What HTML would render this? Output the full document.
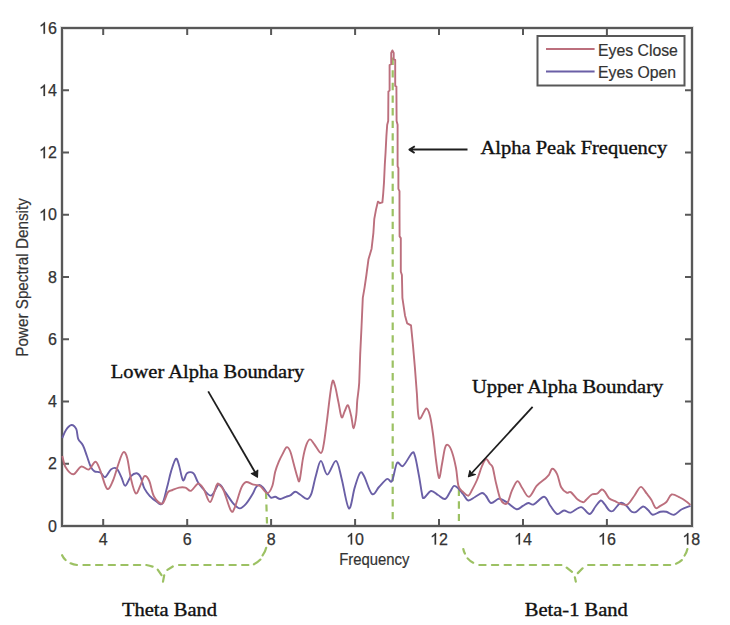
<!DOCTYPE html>
<html><head><meta charset="utf-8"><style>
html,body{margin:0;padding:0;background:#fff;}
svg{display:block;}
</style></head><body>
<svg width="730" height="625" viewBox="0 0 730 625">
<rect width="730" height="625" fill="#fff"/>
<rect x="62" y="28" width="630" height="498" fill="none" stroke="#585858" stroke-width="4.0" stroke-opacity="0.18"/>
<rect x="62" y="28" width="630" height="498" fill="none" stroke="#585858" stroke-width="2.0"/>
<path d="M103.2,526 V519 M103.2,28 V35 M187.2,526 V519 M187.2,28 V35 M271.1,526 V519 M271.1,28 V35 M355.1,526 V519 M355.1,28 V35 M439.0,526 V519 M439.0,28 V35 M523.0,526 V519 M523.0,28 V35 M606.9,526 V519 M606.9,28 V35 M62,463.8 H69 M692,463.8 H685 M62,401.5 H69 M692,401.5 H685 M62,339.3 H69 M692,339.3 H685 M62,277.0 H69 M692,277.0 H685 M62,214.8 H69 M692,214.8 H685 M62,152.6 H69 M692,152.6 H685 M62,90.3 H69 M692,90.3 H685" stroke="#585858" stroke-width="2.0" fill="none"/>
<g font-family="Liberation Sans" font-size="16.0" fill="#333" stroke="#333" stroke-width="0.25"><text x="98.75" y="544.50">4</text><text x="182.70" y="544.50">6</text><text x="266.65" y="544.50">8</text><path transform="translate(346.15,544.50) scale(0.00781,-0.00781)" d="M763 0H583V1147Q518 1085 412.5 1023Q307 961 223 930V1104Q374 1175 487 1276Q600 1377 647 1472H763Z" stroke-width="32.0"/><text x="355.05" y="544.50">0</text><path transform="translate(430.10,544.50) scale(0.00781,-0.00781)" d="M763 0H583V1147Q518 1085 412.5 1023Q307 961 223 930V1104Q374 1175 487 1276Q600 1377 647 1472H763Z" stroke-width="32.0"/><text x="439.00" y="544.50">2</text><path transform="translate(514.05,544.50) scale(0.00781,-0.00781)" d="M763 0H583V1147Q518 1085 412.5 1023Q307 961 223 930V1104Q374 1175 487 1276Q600 1377 647 1472H763Z" stroke-width="32.0"/><text x="522.95" y="544.50">4</text><path transform="translate(598.00,544.50) scale(0.00781,-0.00781)" d="M763 0H583V1147Q518 1085 412.5 1023Q307 961 223 930V1104Q374 1175 487 1276Q600 1377 647 1472H763Z" stroke-width="32.0"/><text x="606.90" y="544.50">6</text><path transform="translate(682.40,544.50) scale(0.00781,-0.00781)" d="M763 0H583V1147Q518 1085 412.5 1023Q307 961 223 930V1104Q374 1175 487 1276Q600 1377 647 1472H763Z" stroke-width="32.0"/><text x="691.30" y="544.50">8</text><text x="47.90" y="531.60">0</text><text x="47.90" y="469.36">2</text><text x="47.90" y="407.12">4</text><text x="47.90" y="344.88">6</text><text x="47.90" y="282.64">8</text><path transform="translate(39.00,220.40) scale(0.00781,-0.00781)" d="M763 0H583V1147Q518 1085 412.5 1023Q307 961 223 930V1104Q374 1175 487 1276Q600 1377 647 1472H763Z" stroke-width="32.0"/><text x="47.90" y="220.40">0</text><path transform="translate(39.00,158.16) scale(0.00781,-0.00781)" d="M763 0H583V1147Q518 1085 412.5 1023Q307 961 223 930V1104Q374 1175 487 1276Q600 1377 647 1472H763Z" stroke-width="32.0"/><text x="47.90" y="158.16">2</text><path transform="translate(39.00,95.92) scale(0.00781,-0.00781)" d="M763 0H583V1147Q518 1085 412.5 1023Q307 961 223 930V1104Q374 1175 487 1276Q600 1377 647 1472H763Z" stroke-width="32.0"/><text x="47.90" y="95.92">4</text><path transform="translate(39.00,33.68) scale(0.00781,-0.00781)" d="M763 0H583V1147Q518 1085 412.5 1023Q307 961 223 930V1104Q374 1175 487 1276Q600 1377 647 1472H763Z" stroke-width="32.0"/><text x="47.90" y="33.68">6</text></g>
<text transform="translate(339.2,565) scale(0.93,1)" x="0" y="0" font-family="Liberation Sans" font-size="16" fill="#333" stroke="#333" stroke-width="0.2">Frequency</text>
<text transform="translate(28.4,356.8) rotate(-90) scale(0.955,1)" x="0" y="0" font-family="Liberation Sans" font-size="16" fill="#333" stroke="#333" stroke-width="0.2">Power Spectral Density</text>
<path d="M392.7,57.6 V520" stroke="#9cc163" stroke-width="2.2" stroke-dasharray="7.3 5.32" fill="none"/>
<path d="M266,492 L267,523.5" stroke="#9cc163" stroke-width="2.2" stroke-dasharray="7 5.5" fill="none"/>
<path d="M458.9,488.5 V521" stroke="#9cc163" stroke-width="2.2" stroke-dasharray="7.5 5.2" fill="none"/>
<path d="M62.3,438.0 C62.9,436.7 64.5,432.2 66.0,430.0 C67.5,427.8 69.8,425.1 71.5,425.0 C73.2,424.9 75.2,426.9 76.3,429.2 C77.4,431.5 77.1,436.1 78.2,438.8 C79.3,441.5 81.5,442.6 83.0,445.5 C84.5,448.4 85.6,452.5 86.9,456.0 C88.2,459.5 89.4,464.0 90.7,466.6 C92.0,469.2 92.9,470.4 94.5,471.4 C96.1,472.4 98.5,471.4 100.3,472.4 C102.1,473.4 103.3,477.7 105.1,477.2 C106.9,476.7 109.0,470.9 110.9,469.5 C112.8,468.1 114.8,467.2 116.6,468.5 C118.3,469.8 120.0,474.3 121.4,477.2 C122.9,480.1 123.7,486.0 125.3,485.8 C126.9,485.6 129.1,478.3 131.0,476.2 C132.9,474.1 135.2,473.1 136.8,473.3 C138.4,473.5 139.3,474.6 140.6,477.2 C141.9,479.8 142.9,485.5 144.5,488.7 C146.1,491.9 148.3,494.3 150.2,496.4 C152.1,498.5 154.0,500.0 156.0,501.2 C158.0,502.4 160.4,505.9 162.2,503.6 C164.0,501.3 165.5,492.9 167.0,487.6 C168.5,482.3 169.5,476.4 171.0,471.6 C172.5,466.8 174.5,459.9 175.8,458.8 C177.1,457.7 177.8,461.6 179.0,465.2 C180.2,468.8 181.7,479.1 183.0,480.4 C184.3,481.7 185.3,474.4 187.0,473.2 C188.7,472.0 191.7,471.9 193.4,473.2 C195.1,474.5 196.1,478.9 197.4,481.2 C198.7,483.5 199.1,484.4 201.4,486.8 C203.7,489.2 208.1,496.0 211.0,495.6 C213.9,495.2 216.6,484.9 219.0,484.4 C221.4,483.9 223.0,489.2 225.4,492.4 C227.8,495.6 231.0,500.9 233.4,503.6 C235.8,506.3 237.7,508.4 239.8,508.4 C241.9,508.4 244.1,506.0 246.2,503.6 C248.3,501.2 251.0,496.7 252.6,494.0 C254.2,491.3 254.7,489.0 255.8,487.5 C256.9,486.0 258.2,484.9 259.4,484.9 C260.6,484.9 261.7,486.1 263.0,487.5 C264.3,488.9 266.0,491.5 267.3,493.2 C268.6,494.9 269.6,497.0 270.9,497.6 C272.2,498.2 273.6,496.6 275.2,496.8 C276.8,497.0 278.4,499.0 280.2,499.0 C282.0,499.0 284.3,497.4 286.0,496.8 C287.7,496.2 288.8,496.2 290.3,495.4 C291.9,494.6 293.6,491.9 295.3,491.8 C297.0,491.7 298.4,493.5 300.4,494.7 C302.4,495.9 305.3,499.2 307.2,499.0 C309.1,498.8 310.1,497.1 311.5,493.3 C312.9,489.5 314.2,481.4 315.8,476.0 C317.4,470.6 319.0,461.1 320.9,460.9 C322.8,460.7 324.8,474.6 327.3,474.6 C329.8,474.6 333.6,460.2 336.0,460.9 C338.4,461.6 339.6,471.0 341.7,478.9 C343.8,486.8 346.7,506.9 348.9,508.4 C351.1,509.8 352.8,493.5 354.7,487.6 C356.6,481.7 358.4,474.9 360.0,473.0 C361.6,471.1 362.0,472.5 364.0,476.0 C366.0,479.5 369.5,492.2 372.0,494.0 C374.5,495.8 376.5,489.5 379.0,487.0 C381.5,484.5 384.8,480.0 387.0,479.0 C389.2,478.0 390.3,483.7 392.0,481.0 C393.7,478.3 395.2,465.5 397.0,463.0 C398.8,460.5 400.5,467.7 403.0,466.0 C405.5,464.3 410.0,454.7 412.0,453.0 C414.0,451.3 413.8,452.2 415.0,456.0 C416.2,459.8 417.8,469.7 419.0,476.0 C420.2,482.3 421.2,490.3 422.0,494.0 C422.8,497.7 422.5,498.5 424.0,498.0 C425.5,497.5 428.7,491.5 431.0,491.0 C433.3,490.5 435.7,493.7 438.0,495.0 C440.3,496.3 443.0,499.5 445.0,499.0 C447.0,498.5 448.5,494.2 450.0,492.0 C451.5,489.8 452.5,486.7 453.8,486.0 C455.1,485.3 456.5,486.7 458.0,488.0 C459.5,489.3 461.3,491.9 463.0,494.0 C464.7,496.1 466.3,500.0 468.3,500.5 C470.3,501.0 472.7,498.2 475.0,497.0 C477.3,495.8 480.2,493.2 482.0,493.0 C483.8,492.8 484.5,494.3 486.0,496.0 C487.5,497.7 489.0,502.5 491.0,503.0 C493.0,503.5 496.3,499.5 498.2,498.9 C500.1,498.3 500.7,498.9 502.3,499.6 C503.9,500.3 505.4,501.4 507.8,503.0 C510.2,504.6 514.2,508.7 516.7,509.2 C519.2,509.7 521.0,506.8 522.9,505.8 C524.8,504.8 526.6,503.2 528.4,503.0 C530.2,502.8 531.2,505.4 533.8,504.4 C536.4,503.4 541.4,496.6 544.1,496.8 C546.9,497.0 548.1,502.9 550.3,505.8 C552.5,508.7 554.8,513.2 557.1,514.0 C559.4,514.8 561.7,510.7 564.0,510.5 C566.3,510.3 567.9,513.2 570.8,512.6 C573.6,512.0 578.0,506.9 581.1,507.1 C584.2,507.3 587.1,514.1 589.5,514.0 C591.9,513.9 593.6,508.8 595.5,506.5 C597.4,504.2 599.3,500.9 600.8,500.5 C602.3,500.1 603.2,502.6 604.6,504.2 C606.0,505.8 607.7,509.2 609.1,510.3 C610.5,511.4 611.5,511.8 612.9,511.0 C614.3,510.2 616.0,507.2 617.4,505.8 C618.8,504.4 619.7,502.7 621.2,502.7 C622.7,502.7 624.6,504.3 626.4,505.8 C628.1,507.3 630.1,510.8 631.7,511.8 C633.3,512.8 634.3,512.7 636.2,511.8 C638.1,510.9 641.0,506.8 643.0,506.5 C645.0,506.2 646.7,508.9 648.3,510.3 C649.9,511.7 650.8,514.5 652.8,514.8 C654.8,515.0 658.0,512.3 660.3,511.8 C662.6,511.3 664.1,511.3 666.4,511.8 C668.7,512.3 671.4,515.2 673.9,514.8 C676.4,514.4 678.6,511.0 681.4,509.5 C684.2,508.0 689.0,506.4 690.5,505.8" stroke="#6a5fa6" stroke-width="1.9" fill="none" stroke-linejoin="round"/>
<path d="M62.3,456.0 C62.9,457.9 63.9,464.6 65.8,467.6 C67.7,470.7 70.9,474.5 73.4,474.3 C76.0,474.1 78.5,467.4 81.1,466.6 C83.7,465.8 86.4,470.3 88.8,469.5 C91.2,468.7 93.6,461.6 95.5,461.8 C97.4,462.0 98.4,466.0 100.3,470.5 C102.2,475.0 104.9,486.9 107.0,488.7 C109.1,490.4 110.9,485.2 112.8,481.0 C114.7,476.8 116.8,468.5 118.5,463.7 C120.2,458.9 121.8,453.1 123.3,452.2 C124.8,451.2 125.9,453.5 127.2,458.0 C128.5,462.5 129.6,473.1 131.0,479.0 C132.4,484.9 134.2,492.5 135.8,493.5 C137.4,494.5 139.2,487.8 140.6,484.9 C142.0,482.0 143.1,476.8 144.5,476.2 C145.9,475.6 147.7,477.6 149.3,481.0 C150.9,484.4 151.8,492.6 154.0,496.4 C156.2,500.2 159.9,504.3 162.2,503.6 C164.5,502.9 166.1,494.7 167.8,492.4 C169.5,490.1 170.7,490.8 172.6,490.0 C174.5,489.2 176.9,488.0 179.0,487.6 C181.1,487.2 183.4,487.1 185.4,487.6 C187.4,488.1 188.9,491.5 191.0,490.8 C193.1,490.1 196.1,483.9 198.2,483.6 C200.3,483.3 201.8,486.1 203.8,489.2 C205.8,492.3 208.1,502.7 210.2,502.0 C212.3,501.3 215.1,488.1 216.6,485.2 C218.1,482.3 217.8,483.5 219.0,484.4 C220.2,485.3 221.8,486.4 223.8,490.8 C225.8,495.2 229.1,508.1 231.0,510.8 C232.9,513.5 233.3,510.7 235.0,506.8 C236.7,502.9 239.5,491.7 241.4,487.6 C243.3,483.5 244.3,482.5 246.2,482.0 C248.1,481.5 250.3,483.7 252.6,484.4 C254.9,485.1 257.6,484.5 260.0,486.0 C262.4,487.5 265.2,493.2 267.3,493.2 C269.4,493.2 271.0,489.6 272.3,486.0 C273.6,482.4 274.1,475.8 275.2,471.7 C276.3,467.6 277.5,464.7 278.8,461.6 C280.1,458.5 281.8,455.4 283.1,453.0 C284.4,450.6 285.5,447.4 286.7,447.2 C287.9,446.9 289.1,448.6 290.3,451.5 C291.5,454.4 292.7,460.2 293.9,464.5 C295.1,468.8 296.6,474.8 297.5,477.4 C298.4,480.0 298.7,483.4 299.6,480.3 C300.5,477.2 301.8,464.8 302.9,458.8 C304.0,452.8 305.3,447.6 306.5,444.4 C307.7,441.2 308.8,439.4 310.1,439.4 C311.4,439.4 312.6,442.1 314.4,444.4 C316.2,446.7 319.3,453.0 320.9,453.0 C322.4,453.0 322.7,449.7 323.7,444.4 C324.7,439.1 325.8,429.3 326.9,421.2 C327.9,413.1 329.1,402.3 330.0,395.6 C330.9,388.9 331.7,382.4 332.6,380.9 C333.5,379.4 334.2,383.1 335.2,386.6 C336.2,390.1 337.3,396.9 338.4,402.0 C339.5,407.1 340.5,415.8 341.6,417.3 C342.7,418.8 343.7,413.0 344.8,411.0 C345.9,409.0 346.9,404.4 348.0,405.2 C349.1,406.0 350.2,412.2 351.2,416.0 C352.1,419.8 352.8,428.4 353.7,428.2 C354.6,428.0 355.7,419.5 356.3,414.8 C356.9,410.1 356.8,405.5 357.3,400.2 C357.8,394.9 358.7,390.6 359.2,382.9 L360.2,354.1 L361.5,327.3 L362.8,297.9 L364.6,287.3 L366.4,275.0 L368.5,259.2 L371.6,248.7 L373.4,232.8 L374.3,218.8 L376.0,209.6 L377.9,201.6 L380.0,203.2 L382.4,202.4 L383.2,193.6 L384.0,182.4 L384.8,164.8 L385.6,152.0 L386.4,136.0 L387.2,124.8 L388.2,121.0 L388.4,91.5 L389.6,90.6 L389.6,65.0 L391.2,64.2 L391.2,53.0 L392.4,50.4 L393.7,53.0 L393.7,59.4 L395.2,60.0 L395.2,86.0 L396.4,86.6 L396.6,121.0 L397.6,124.8 L397.6,166.4 L398.4,168.0 L398.4,188.8 L399.5,191.2 L399.5,210.0 L399.6,236.4 L400.8,238.1 L400.8,271.5 L401.9,275.0 L402.4,297.9 L405.0,315.4 L407.2,323.4 L411.0,325.4 L412.9,344.5 L414.9,367.6 L416.8,392.5 C417.5,401.0 417.5,415.7 419.1,418.4 C420.7,421.1 424.4,408.9 426.2,408.5 C428.0,408.1 428.9,411.8 430.0,416.0 C431.1,420.2 432.0,426.7 433.0,434.0 C434.0,441.3 435.0,452.7 436.0,460.0 C437.0,467.3 438.0,477.3 439.0,478.0 C440.0,478.7 441.0,469.0 442.0,464.0 C443.0,459.0 444.0,451.2 445.0,448.0 C446.0,444.8 446.8,444.3 448.0,445.0 C449.2,445.7 450.7,448.2 452.0,452.0 C453.3,455.8 454.9,462.3 456.0,468.0 C457.1,473.7 457.3,482.0 458.5,486.0 C459.7,490.0 461.4,490.4 463.0,492.0 C464.6,493.6 466.8,496.0 468.3,495.7 C469.8,495.4 470.6,492.6 472.0,490.0 C473.4,487.4 475.3,484.0 477.0,480.0 C478.7,476.0 480.5,469.5 482.0,466.0 C483.5,462.5 484.7,459.3 486.0,459.0 C487.3,458.7 488.9,462.6 490.0,464.0 C491.1,465.4 491.7,464.1 492.7,467.4 C493.7,470.7 494.9,478.6 496.2,483.8 C497.5,489.1 498.9,495.6 500.3,498.9 C501.7,502.2 503.1,503.1 504.4,503.7 C505.6,504.3 506.6,504.5 507.8,502.3 C509.1,500.1 510.3,494.2 511.9,490.7 C513.5,487.2 515.7,481.6 517.4,481.1 C519.1,480.7 520.3,485.4 522.2,488.0 C524.1,490.6 526.6,497.2 529.0,496.8 C531.4,496.4 534.0,488.9 536.6,485.9 C539.2,482.9 542.8,480.8 544.8,479.0 C546.8,477.2 547.6,476.6 548.9,474.9 C550.1,473.2 550.9,468.9 552.3,468.8 C553.7,468.7 555.6,471.1 557.1,474.2 C558.6,477.3 559.6,484.2 561.2,487.3 C562.8,490.4 565.1,491.9 566.7,492.7 C568.3,493.5 569.0,491.0 570.8,492.1 C572.6,493.2 575.6,497.9 577.7,499.6 C579.8,501.3 581.8,502.2 583.2,502.3 C584.6,502.4 584.6,501.3 586.0,500.0 C587.4,498.7 589.9,495.6 591.8,494.5 C593.6,493.4 595.5,494.5 597.1,493.7 C598.7,492.9 600.4,489.9 601.6,489.5 C602.9,489.1 603.4,489.9 604.6,491.4 C605.9,492.8 607.4,496.6 609.1,498.2 C610.9,499.8 613.1,500.2 615.1,501.2 C617.1,502.2 619.1,503.7 621.2,504.2 C623.3,504.7 625.6,505.7 627.9,504.2 C630.1,502.7 632.6,498.1 634.7,495.2 C636.9,492.3 638.8,487.1 640.8,486.9 C642.8,486.6 645.0,491.6 646.8,493.7 C648.5,495.8 649.8,497.3 651.3,499.7 C652.8,502.1 654.3,507.0 655.8,508.0 C657.3,509.0 658.5,506.8 660.3,505.8 C662.1,504.8 664.5,503.9 666.4,502.0 C668.3,500.1 669.4,495.2 671.6,494.5 C673.9,493.8 677.5,496.4 679.9,497.5 C682.3,498.6 684.2,499.9 686.0,501.2 C687.8,502.4 689.8,504.4 690.5,505.0" stroke="#bc6f7d" stroke-width="1.9" fill="none" stroke-linejoin="round"/>
<path d="M62.1,555.2 Q63.4,558 65.6,560 M70.6,563.3 Q73.5,564.6 77,565 M83.4,565 H89.7 M96.0,565 H102.3 M108.7,565 H115.0 M121.3,565 H127.6 M133.9,565 H140.2 M146.3,565 Q149.8,565.6 152.6,566.6 M157.7,569.6 L161.5,575.1 M163.0,581.6 L164.2,575.3 M167.4,569.9 L172.8,566.5 M179.0,565 H185.3 M191.6,565 H197.9 M204.3,565 H210.6 M216.9,565 H223.2 M229.5,565 H235.8 M242.1,565 H248.4 M253.9,564.3 Q257.5,562.6 260.4,559.6 M262.6,555.4 Q265.3,551.8 266.2,547.8 M463.3,549.0 Q463.8,551.5 464.9,553.6 M467.6,558.4 Q470,561.2 473.2,562.7 M479.3,565 H485.6 M491.9,565 H498.2 M504.6,565 H510.9 M517.2,565 H523.5 M529.8,565 H536.1 M542.5,565 H548.8 M555.1,565 H561.4 M566.7,567.6 L572.0,571.8 M574.9,577.4 L575.8,581.6 M577.8,573.1 L582.6,568.3 M588.1,565 H594.4 M600.7,565 H607.0 M613.4,565 H619.7 M626.0,565 H632.3 M638.6,565 H644.9 M651.2,565 H657.5 M663.9,565 H670.2 M676.0,563.7 Q679.3,562.3 681.8,560.1 M684.6,555.5 Q686.6,552.6 687.4,549.0" stroke="#9cc163" stroke-width="2.2" fill="none" stroke-linecap="round"/>
<rect x="537.5" y="36" width="147" height="49.5" fill="#fff" stroke="#585858" stroke-width="2.0"/>
<path d="M546,49 H594.6" stroke="#bc6f7d" stroke-width="1.9"/>
<path d="M546,71.5 H594.6" stroke="#6a5fa6" stroke-width="1.9"/>
<g font-family="Liberation Sans" font-size="15.8" fill="#333" stroke="#333" stroke-width="0.2"><text x="598" y="56">Eyes Close</text><text x="598" y="77.9">Eyes Open</text></g>
<path d="M467.5,149.5 H410.5" stroke="#1e1e1e" stroke-width="1.9"/>
<path d="M414.8,146.2 L409.4,149.6 L414.6,153.0" stroke="#1e1e1e" stroke-width="1.9" fill="none" stroke-linejoin="round"/>
<path d="M409,149.6 L413.2,147.6 L412.4,149.6 L413.2,151.6 Z" fill="#1e1e1e"/>
<path d="M208.2,391.4 L256.2,474.2" stroke="#1e1e1e" stroke-width="1.8"/>
<path d="M257.5,477.3 L251.3,473.5 L255.2,472.2 L257.8,470.2 Z" fill="#1e1e1e" stroke="#1e1e1e" stroke-width="1.1" stroke-linejoin="round"/>
<path d="M532.6,406.9 L470,475" stroke="#1e1e1e" stroke-width="1.8"/>
<path d="M468.4,476.8 L469.8,470.6 L471.8,473.8 L475.4,474.6 Z" fill="#1e1e1e" stroke="#1e1e1e" stroke-width="1.1" stroke-linejoin="round"/>
<g font-family="Liberation Serif" font-size="20.5" fill="#111" stroke="#111" stroke-width="0.4"><text transform="translate(480.5,153.9) scale(1,0.92)" x="0" y="0">Alpha Peak Frequency</text><text transform="translate(110.8,377.6) scale(1,0.92)" x="0" y="0">Lower Alpha Boundary</text><text transform="translate(472,392.6) scale(1,0.92)" x="0" y="0">Upper Alpha Boundary</text><text transform="translate(122,616) scale(1,0.92)" x="0" y="0">Theta Band</text><text transform="translate(524.8,616.4) scale(1,0.92)" x="0" y="0">Beta-1 Band</text></g>
</svg>
</body></html>
